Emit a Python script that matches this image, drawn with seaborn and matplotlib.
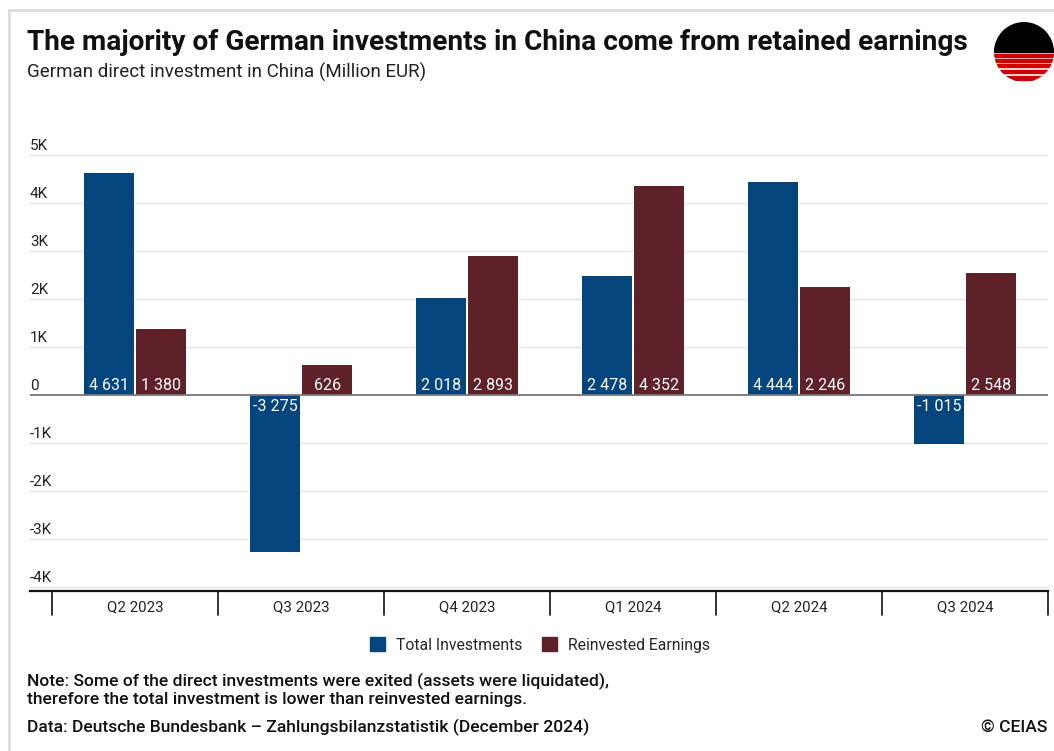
import numpy as np
import pandas as pd
import matplotlib
matplotlib.use("Agg")
import matplotlib.pyplot as plt
import matplotlib.patches as mpatches
from matplotlib.transforms import ScaledTranslation, blended_transform_factory
import seaborn as sns

# ---- data ----
quarters = ["Q2 2023", "Q3 2023", "Q4 2023", "Q1 2024", "Q2 2024", "Q3 2024"]
total_investments = [4631, -3275, 2018, 2478, 4444, -1015]
reinvested_earnings = [1380, 626, 2893, 4352, 2246, 2548]
series_names = ["Total Investments", "Reinvested Earnings"]
series_colors = ["#03457C", "#5E2129"]
ytick_values = [-4000, -3000, -2000, -1000, 0, 1000, 2000, 3000, 4000, 5000]
ytick_labels = ["-4K", "-3K", "-2K", "-1K", "0", "1K", "2K", "3K", "4K", "5K"]

title = "The majority of German investments in China come from retained earnings"
subtitle = "German direct investment in China (Million EUR)"
note = ("Note: Some of the direct investments were exited (assets were liquidated),\n"
        "therefore the total investment is lower than reinvested earnings.")
source = "Data: Deutsche Bundesbank \u2013 Zahlungsbilanzstatistik (December 2024)"
credit = "\u00a9 CEIAS"

df = pd.DataFrame({
    "quarter": quarters * 2,
    "series": [series_names[0]] * len(quarters) + [series_names[1]] * len(quarters),
    "value": total_investments + reinvested_earnings,
})

sns.set_theme(style="white")
plt.rcParams["font.family"] = ["Roboto", "DejaVu Sans"]

W, H = 1054, 751
fig = plt.figure(figsize=(W / 100, H / 100), dpi=100)

def fx(px):
    return px / W

def fy(py):
    return 1 - py / H

ax_left, ax_right, ax_top, ax_bottom = 30, 1048, 145, 591
ax = fig.add_axes([fx(ax_left), fy(ax_bottom), fx(ax_right - ax_left), (ax_bottom - ax_top) / H])

sns.barplot(data=df, x="quarter", y="value", hue="series", order=quarters,
            hue_order=series_names, palette=series_colors, width=0.63,
            saturation=1, ax=ax, legend=False)

# small gap between bars
for p in ax.patches:
    w = p.get_width()
    p.set_width(w - 0.012)
    p.set_x(p.get_x() + 0.006)
    p.set_linewidth(0)

ax.set_ylim(-4090, 5210)
ax.set_xlim(-0.633, 5.5)
ax.set_xlabel("")
ax.set_ylabel("")

for s in ["top", "right", "left"]:
    ax.spines[s].set_visible(False)
ax.spines["bottom"].set_color("#111111")
ax.spines["bottom"].set_linewidth(1.6)

# grid
ax.set_yticks(ytick_values)
ax.set_yticklabels(ytick_labels)
for v in ytick_values:
    if v == 0:
        ax.axhline(v, color="#777777", lw=1.3, zorder=3)
    else:
        ax.axhline(v, color="#e4e4e4", lw=1.0, zorder=0)

ax.tick_params(axis="y", length=0, pad=0, labelsize=11, labelcolor="#222222")
for lab in ax.get_yticklabels():
    lab.set_horizontalalignment("left")
    lab.set_verticalalignment("bottom")
    lab.set_transform(lab.get_transform() + ScaledTranslation(0, 2 / 100, fig.dpi_scale_trans))

# x ticks: labels centred, separators below axis
ax.tick_params(axis="x", length=0, pad=7, labelsize=10.8, labelcolor="#222222")
trans = blended_transform_factory(ax.transData, ax.transAxes)
sep_len = 24 / (ax_bottom - ax_top)
for i in range(len(quarters) + 1):
    ax.plot([i - 0.5, i - 0.5], [0, -sep_len], color="#111111", lw=1.2,
            transform=trans, clip_on=False)

# value labels inside the bars near zero
for p in ax.patches:
    h = p.get_height()
    if h == 0 or np.isnan(h):
        continue
    xc = p.get_x() + p.get_width() / 2
    txt = f"{int(round(h)):,}".replace(",", " ")
    if h > 0:
        ax.text(xc, 0, txt, ha="center", va="bottom", color="white", fontsize=11.5,
                transform=ax.transData + ScaledTranslation(0, 2 / 100, fig.dpi_scale_trans), zorder=5)
    else:
        ax.text(xc, 0, txt, ha="center", va="top", color="white", fontsize=11.5,
                transform=ax.transData + ScaledTranslation(0, -4 / 100, fig.dpi_scale_trans), zorder=5)

# legend
handles = [mpatches.Patch(color=c, label=n) for c, n in zip(series_colors, series_names)]
fig.legend(handles=handles, loc="center", bbox_to_anchor=(fx(540), fy(645)), ncol=2,
           frameon=False, fontsize=11.3, handlelength=1.0, handleheight=1.0,
           columnspacing=1.2, handletextpad=0.7)

# titles & footnotes
fig.text(fx(27), fy(42), title, fontsize=20.2, fontweight="bold", color="#111111",
         ha="left", va="center")
fig.text(fx(27), fy(72), subtitle, fontsize=13.5, color="#222222", ha="left", va="center")
fig.text(fx(27), fy(690), note, fontsize=12.6, fontweight="medium", color="#111111",
         ha="left", va="center", linespacing=1.2)
fig.text(fx(27), fy(727), source, fontsize=12.6, fontweight="medium", color="#111111",
         ha="left", va="center")
fig.text(fx(1047), fy(727), credit, fontsize=12.6, fontweight="medium", color="#111111",
         ha="right", va="center")

# border
fig.add_artist(plt.Line2D([fx(9), fx(9)], [fy(10), 0], color="#dcdcdc", lw=2))
fig.add_artist(plt.Line2D([fx(9), 1], [fy(10), fy(10)], color="#dcdcdc", lw=2))

# logo
lax = fig.add_axes([fx(994), fy(82), fx(60), 60 / H])
lax.set_xlim(-1, 1)
lax.set_ylim(-1, 1)
lax.set_aspect("equal")
lax.axis("off")
circ = mpatches.Circle((0, 0), 1, transform=lax.transData)
top = mpatches.Rectangle((-1, 0.0), 2, 1.1, color="black")
lax.add_patch(top)
top.set_clip_path(circ)
stripes = [(-0.17, 0.11), (-0.33, 0.11), (-0.50, 0.11), (-0.70, 0.11), (-0.93, 0.12)]
for y0, hgt in stripes:
    r = mpatches.Rectangle((-1, y0), 2, hgt, color="#cc0000")
    lax.add_patch(r)
    r.set_clip_path(circ)

fig.savefig("out.png", dpi=100)
